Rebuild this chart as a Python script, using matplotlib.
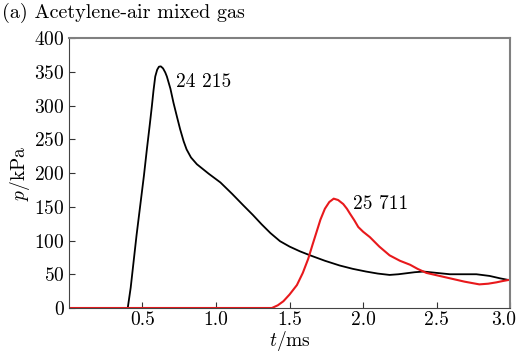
import numpy as np
import matplotlib
matplotlib.use("Agg")
import matplotlib.pyplot as plt
from matplotlib.transforms import ScaledTranslation

plt.rcParams['font.family'] = ['cmr10', 'DejaVu Serif']
plt.rcParams['mathtext.fontset'] = 'cm'
plt.rcParams['axes.formatter.use_mathtext'] = True
plt.rcParams['axes.unicode_minus'] = False

# black curve (peak 24 215)
t1 = [0.0, 0.40, 0.42, 0.44, 0.46, 0.485, 0.51, 0.53, 0.55, 0.564, 0.575, 0.587,
      0.60, 0.612, 0.625, 0.64, 0.655, 0.666, 0.69, 0.711, 0.735, 0.756, 0.78, 0.80,
      0.83, 0.87, 0.95, 1.03, 1.11, 1.186, 1.25, 1.31, 1.37, 1.435, 1.50, 1.57, 1.64,
      1.74, 1.84, 1.93, 2.02, 2.10, 2.18, 2.24, 2.295, 2.35, 2.41, 2.50, 2.59,
      2.68, 2.77, 2.86, 2.93, 3.0]
p1 = [0, 0, 30, 69, 108, 152, 196, 235, 272, 299, 322, 343,
      353, 357.5, 358, 355, 349, 343, 325, 304, 283, 265, 247, 235,
      223, 213, 199, 186, 169, 152, 138, 124, 111, 99, 91, 84, 78,
      70, 63, 58, 54, 51, 49, 50, 51.5, 53, 54, 52, 50,
      50, 50, 47.5, 44, 41]

# red curve (peak 25 711)
t2 = [0.0, 1.38, 1.42, 1.458, 1.50, 1.55, 1.59, 1.627, 1.655, 1.684, 1.71, 1.74,
      1.77, 1.80, 1.83, 1.865, 1.89, 1.91, 1.94, 1.967, 2.00, 2.046, 2.11, 2.18,
      2.25, 2.32, 2.37, 2.43, 2.51, 2.59, 2.69, 2.79, 2.85, 2.906, 2.95, 3.0]
p2 = [0, 0, 4, 10, 20, 34, 52, 73, 93, 113, 131, 147,
      157, 162, 160, 154, 147, 140, 130, 120, 113, 105, 91, 78,
      70, 64, 58, 52, 48, 44, 39, 35, 36, 38, 40, 42]

xticks = [0.5, 1.0, 1.5, 2.0, 2.5, 3.0]
xlabels = ['0.5', '1.0', '1.5', '2.0', '2.5', '3.0']

fig = plt.figure(figsize=(5.18, 3.52), dpi=100)
ax = fig.add_axes([0.133, 0.125, 0.852, 0.767])

ax.plot(t1, p1, color='black', lw=1.3)
ax.plot(t2, p2, color='#e8191c', lw=1.5)

ax.text(0.73, 335, '24 215', fontsize=14, va='center')
ax.text(1.93, 154, '25 711', fontsize=14, va='center')

ax.set_xlim(0, 3.0)
ax.set_ylim(0, 400)
ax.set_xticks(xticks)
ax.set_xticklabels(xlabels)
ax.set_yticks(range(0, 401, 50))
ax.tick_params(direction='in', length=4, labelsize=14, pad=3, color='#333333')
ax.tick_params(axis='x', pad=2)
# keep the last x label inside the figure
last = ax.get_xticklabels()[-1]
last.set_transform(last.get_transform() + ScaledTranslation(-7 / 100, 0, fig.dpi_scale_trans))

for s in ['top', 'right']:
    ax.spines[s].set_color('#808080')
    ax.spines[s].set_linewidth(1.5)
for s in ['left', 'bottom']:
    ax.spines[s].set_color('#444444')

ax.set_xlabel('$t$/ms', fontsize=14, labelpad=0)
ax.set_ylabel('$p$/kPa', fontsize=14, labelpad=2)
fig.text(0.004, 0.962, '(a) Acetylene-air mixed gas', fontsize=14.5, va='center')

fig.savefig('out.png', dpi=100)
